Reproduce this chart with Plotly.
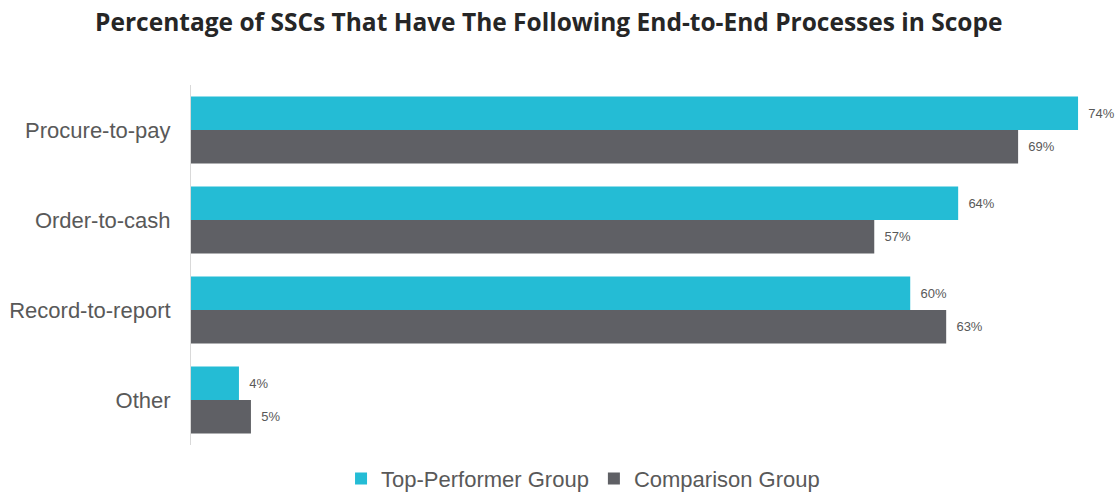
import plotly.graph_objects as go

categories = ["Procure-to-pay", "Order-to-cash", "Record-to-report", "Other"]
top_performer = [74, 64, 60, 4]
comparison = [69, 57, 63, 5]
series_names = ["Top-Performer Group", "Comparison Group"]
colors = ["#24BCD5", "#5F6065"]

fig = go.Figure()
for name, vals, col in zip(series_names, [top_performer, comparison], colors):
    fig.add_trace(go.Bar(
        y=categories, x=vals, name=name, orientation="h",
        marker=dict(color=col, line=dict(width=0)),
        text=[f"  {v}%" for v in vals], textposition="outside",
        textfont=dict(family="Liberation Sans, Arial", size=13, color="#595959"),
        cliponaxis=False,
    ))

fig.update_layout(
    width=1120, height=492,
    margin=dict(l=191, r=0, t=85, b=47, autoexpand=False),
    paper_bgcolor="white", plot_bgcolor="white",
    barmode="group", bargap=0.256, bargroupgap=0,
    title=dict(text="<b>Percentage of SSCs That Have The Following End-to-End Processes in Scope</b>",
               x=0.49, xanchor="center", y=0.955, yanchor="middle",
               font=dict(family="Open Sans", size=24.5, color="#262626")),
    xaxis=dict(range=[0, 77.5], showgrid=False, showticklabels=False, zeroline=False,
               showline=False),
    yaxis=dict(autorange="reversed", showgrid=False, showline=True, linecolor="#D9D9D9",
               linewidth=1, ticks="", ticklabelstandoff=15,
               tickfont=dict(family="Liberation Sans, Arial", size=22, color="#595959")),
    legend=dict(orientation="h", x=0.422, xanchor="center", yref="container",
                y=0.027, yanchor="middle", traceorder="normal",
                font=dict(family="Liberation Sans, Arial", size=22, color="#595959")),
    showlegend=True,
)

fig.write_html("out.html")
